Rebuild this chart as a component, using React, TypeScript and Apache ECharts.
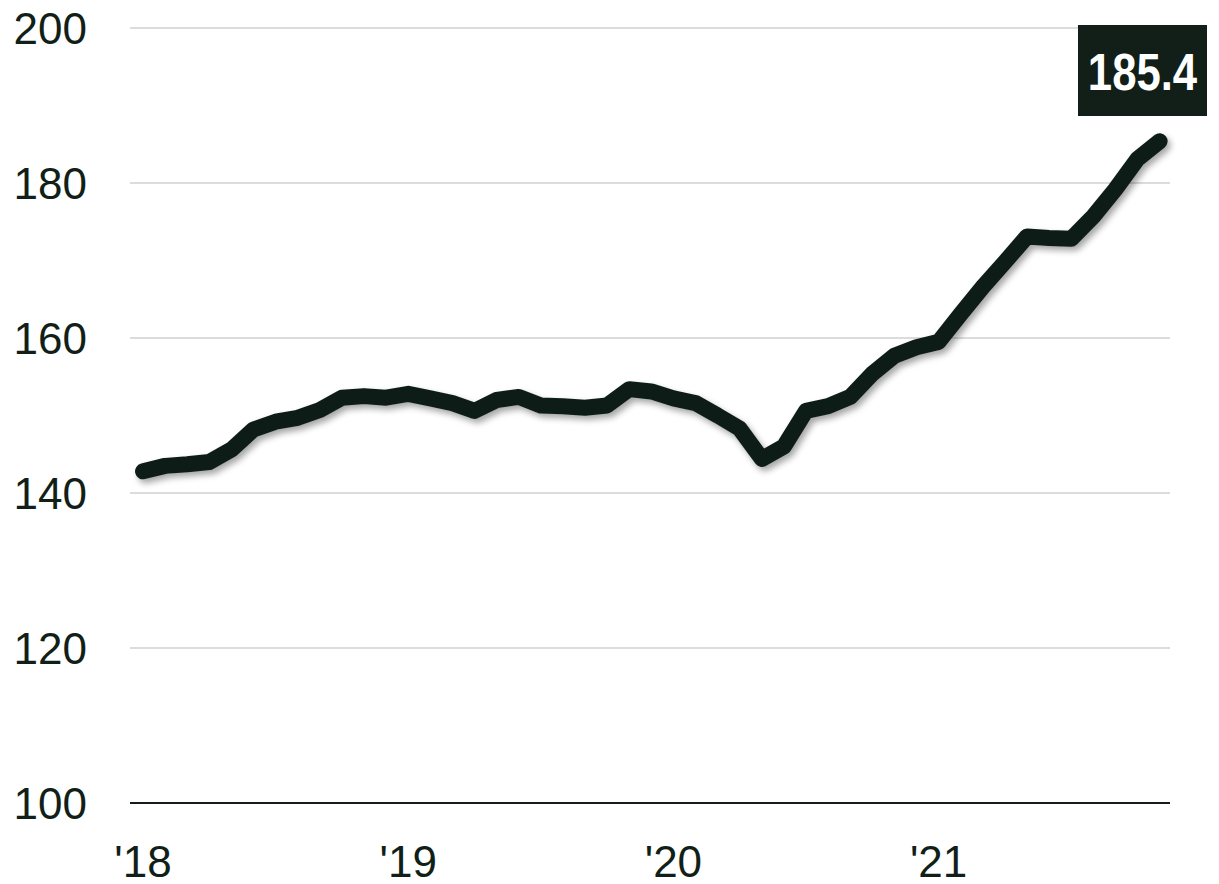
import React, { useEffect, useRef } from "react";
import * as echarts from "echarts";

const months: string[] = [
  "2018-01","2018-02","2018-03","2018-04","2018-05","2018-06","2018-07","2018-08","2018-09","2018-10","2018-11","2018-12",
  "2019-01","2019-02","2019-03","2019-04","2019-05","2019-06","2019-07","2019-08","2019-09","2019-10","2019-11","2019-12",
  "2020-01","2020-02","2020-03","2020-04","2020-05","2020-06","2020-07","2020-08","2020-09","2020-10","2020-11","2020-12",
  "2021-01","2021-02","2021-03","2021-04","2021-05","2021-06","2021-07","2021-08","2021-09","2021-10","2021-11",
];

const values: number[] = [
  142.8, 143.5, 143.7, 144.0, 145.6, 148.2, 149.2, 149.7, 150.7, 152.3, 152.5, 152.3,
  152.8, 152.2, 151.6, 150.6, 152.0, 152.4, 151.3, 151.2, 151.0, 151.3, 153.4, 153.1,
  152.2, 151.6, 150.0, 148.3, 144.4, 146.0, 150.6, 151.2, 152.4, 155.4, 157.7, 158.8,
  159.5, 163.1, 166.6, 169.8, 173.1, 172.9, 172.8, 175.7, 179.2, 183.1, 185.4,
];

const xTickIndex: number[] = [0, 12, 24, 36];
const xTickLabels: string[] = ["'18", "'19", "'20", "'21"];
const yTicks: number[] = [100, 120, 140, 160, 180, 200];

const DARK = "#111f18";
const FONT = "'Liberation Sans Narrow', 'Arial Narrow', 'Liberation Sans', Arial, sans-serif";

export default function App() {
  const ref = useRef<HTMLDivElement>(null);

  useEffect(() => {
    document.body.style.margin = "0";
    if (!ref.current) return;
    const chart = echarts.init(ref.current, undefined, { renderer: "svg" });
    const data = values.map((v, i) => [i, v, months[i]]);
    const last = values[values.length - 1];
    chart.setOption({
      animation: false,
      backgroundColor: "#ffffff",
      grid: { left: 130, right: 49, top: 28, bottom: 81, containLabel: false },
      xAxis: {
        type: "value",
        min: -0.59,
        max: 46.47,
        splitLine: { show: false },
        axisTick: { show: false },
        axisLine: { show: false },
        axisLabel: {
          customValues: xTickIndex,
          formatter: (v: number) => {
            const k = xTickIndex.indexOf(Math.round(v));
            return k >= 0 ? xTickLabels[k] : "";
          },
          color: DARK,
          fontFamily: FONT,
          fontSize: 44,
          margin: 36,
        },
      },
      yAxis: {
        type: "value",
        min: 100,
        max: 200,
        interval: 20,
        axisLine: { show: false },
        axisTick: { show: false },
        splitLine: { show: true, lineStyle: { color: "#dcdcdc", width: 2 } },
        axisLabel: {
          customValues: yTicks,
          color: DARK,
          fontFamily: FONT,
          fontSize: 44,
          margin: 43,
        },
      },
      series: [
        {
          type: "line",
          data: [[-0.59, 100], [46.47, 100]],
          symbol: "none",
          silent: true,
          lineStyle: { color: DARK, width: 2 },
          z: 1,
        },
        {
          type: "line",
          data,
          symbol: "none",
          lineStyle: {
            color: DARK,
            width: 16,
            cap: "round",
            join: "round",
            shadowColor: "rgba(0,0,0,0.35)",
            shadowBlur: 6,
            shadowOffsetX: 3,
            shadowOffsetY: 4,
          },
          z: 3,
        },
      ],
      graphic: [
        {
          type: "rect",
          x: 1078,
          y: 25,
          z: 100,
          shape: { x: 0, y: 0, width: 129, height: 91 },
          style: { fill: DARK },
        },
        {
          type: "text",
          x: 1142.5,
          y: 72,
          z: 101,
          scaleX: 0.84,
          style: {
            text: last.toFixed(1),
            fill: "#ffffff",
            font: `bold 52px ${FONT}`,
            align: "center",
            verticalAlign: "middle",
          },
        },
      ],
    });
    return () => chart.dispose();
  }, []);

  return <div ref={ref} style={{ width: 1219, height: 884 }} />;
}
